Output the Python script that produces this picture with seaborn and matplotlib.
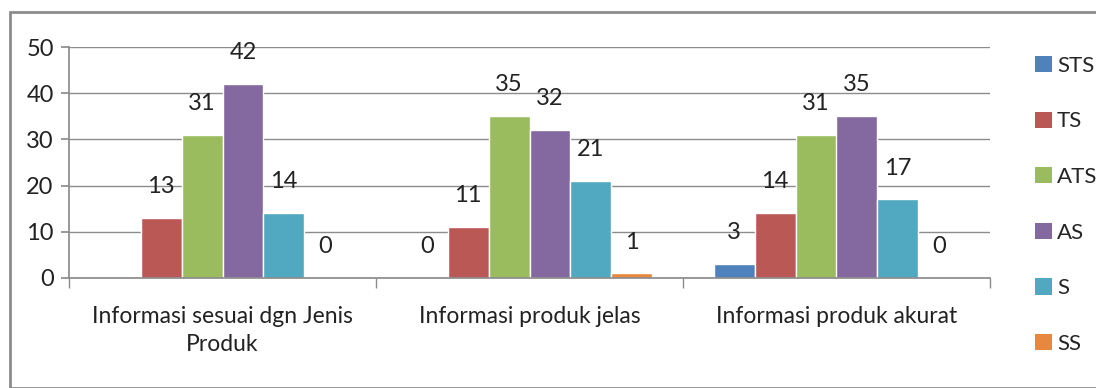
import numpy as np
import pandas as pd
import matplotlib
matplotlib.use("Agg")
import matplotlib.pyplot as plt
import seaborn as sns
from matplotlib.patches import Rectangle

categories = ["Informasi sesuai dgn Jenis\nProduk", "Informasi produk jelas", "Informasi produk akurat"]
series = ["STS", "TS", "ATS", "AS", "S", "SS"]
STS = [np.nan, 0, 3]
TS = [13, 11, 14]
ATS = [31, 35, 31]
AS = [42, 32, 35]
S = [14, 21, 17]
SS = [0, 1, 0]
colors = ["#4F81BD", "#BA5856", "#9BBB5F", "#8468A0", "#51A9C1", "#E8873E"]

rows = []
for name, vals in zip(series, [STS, TS, ATS, AS, S, SS]):
    for c, v in zip(categories, vals):
        rows.append({"cat": c, "series": name, "value": v})
df = pd.DataFrame(rows)

sns.set_theme(style="white")
plt.rcParams["font.family"] = ["Lato", "DejaVu Sans"]

fig = plt.figure(figsize=(10.96, 3.88), dpi=100)
ax = fig.add_axes([69/1096, 110/388, (990-69)/1096, (278-47)/388])

sns.barplot(data=df, x="cat", y="value", hue="series", order=categories,
            hue_order=series, palette=colors, width=0.8, gap=0,
            saturation=1, ax=ax, legend=False, dodge=True)

for cont in ax.containers:
    labels = ["" if (v is None or np.isnan(v)) else f"{v:g}" for v in cont.datavalues]
    ax.bar_label(cont, labels=labels, padding=15, fontsize=17, color="#222222")

ax.set_ylim(0, 50)
ax.set_yticks([0, 10, 20, 30, 40, 50])
ax.set_xlim(-0.5, 2.5)
ax.yaxis.grid(True, color="#8c8c8c", linewidth=1)
ax.set_axisbelow(True)
ax.set_xlabel("")
ax.set_ylabel("")
for sp in ["top", "right"]:
    ax.spines[sp].set_visible(False)
ax.spines["left"].set_color("#8c8c8c")
ax.spines["bottom"].set_color("#8c8c8c")
ax.tick_params(axis="y", labelsize=17, length=6, color="#8c8c8c", left=True, pad=5, labelcolor="#222222")
ax.tick_params(axis="x", labelsize=16.5, length=0, pad=20, labelcolor="#222222")
ax.set_xticks(range(3))
ax.set_xticklabels(categories, linespacing=1.45)
ax.set_xticks([-0.5, 0.5, 1.5, 2.5], minor=True)
ax.tick_params(axis="x", which="minor", length=7, color="#8c8c8c", bottom=True)

handles = [Rectangle((0, 0), 1, 1, facecolor=c, edgecolor="none") for c in colors]
fig.legend(handles, series, loc="upper left", bbox_to_anchor=(1026/1096, 1 - 47/388),
           frameon=False, fontsize=16, handlelength=0.75, handleheight=0.75,
           handletextpad=0.25, labelspacing=1.6, borderaxespad=0)

fig.add_artist(Rectangle((10/1096, 0), 1.0, 1 - 12/388, transform=fig.transFigure,
                         fill=False, edgecolor="#8c8c8c", linewidth=2))

fig.savefig("out.png", dpi=100)
